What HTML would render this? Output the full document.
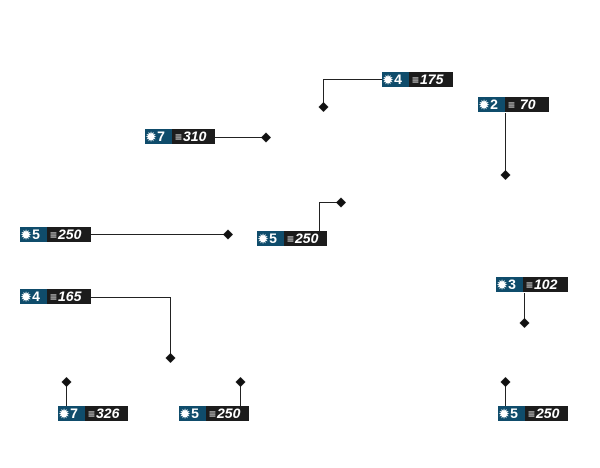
<!DOCTYPE html>
<html><head><meta charset="utf-8"><style>
body{margin:0;width:600px;height:468px;background:#fff;position:relative;overflow:hidden;font-family:"Liberation Sans",sans-serif}
.l{position:absolute;height:15px;display:flex;font-weight:bold;font-size:14px;line-height:15px;color:#fff}
.b{background:#0f4c6b;width:27px;padding-left:1px;box-sizing:border-box;white-space:nowrap}
.d{background:#1c1c1c;flex:1;font-style:italic;padding-left:3px;white-space:nowrap}
.g{font-size:12px;margin-right:1px}
svg{position:absolute;left:0;top:0}
</style></head><body>
<svg width="600" height="468">
<g stroke="#222" stroke-width="1" fill="none">
<polyline points="382,79.5 323.5,79.5 323.5,108"/>
<polyline points="505.5,113 505.5,175"/>
<polyline points="215,137.5 266,137.5"/>
<polyline points="91,234.5 228,234.5"/>
<polyline points="319.5,231 319.5,202.5 341,202.5"/>
<polyline points="91,297.5 170.5,297.5 170.5,358"/>
<polyline points="524.5,293 524.5,323"/>
<polyline points="66.5,406 66.5,382"/>
<polyline points="240.5,406 240.5,382"/>
<polyline points="505.5,406 505.5,382"/>
</g>
<g fill="#111">
<path d="M323.5,102 l5,5 -5,5 -5,-5z"/>
<path d="M505.5,170 l5,5 -5,5 -5,-5z"/>
<path d="M266,132.5 l5,5 -5,5 -5,-5z"/>
<path d="M228,229.5 l5,5 -5,5 -5,-5z"/>
<path d="M341,197.5 l5,5 -5,5 -5,-5z"/>
<path d="M170.5,353 l5,5 -5,5 -5,-5z"/>
<path d="M524.5,318 l5,5 -5,5 -5,-5z"/>
<path d="M66.5,377 l5,5 -5,5 -5,-5z"/>
<path d="M240.5,377 l5,5 -5,5 -5,-5z"/>
<path d="M505.5,377 l5,5 -5,5 -5,-5z"/>
</g>
</svg>
<div class="l" style="left:382px;top:72px;width:71px"><div class="b"><span class="g">✹</span>4</div><div class="d"><span class="g">≡</span>175</div></div>
<div class="l" style="left:478px;top:97px;width:71px"><div class="b"><span class="g">✹</span>2</div><div class="d"><span class="g">≡</span> 70</div></div>
<div class="l" style="left:145px;top:129px;width:70px"><div class="b"><span class="g">✹</span>7</div><div class="d"><span class="g">≡</span>310</div></div>
<div class="l" style="left:20px;top:227px;width:71px"><div class="b"><span class="g">✹</span>5</div><div class="d"><span class="g">≡</span>250</div></div>
<div class="l" style="left:257px;top:231px;width:70px"><div class="b"><span class="g">✹</span>5</div><div class="d"><span class="g">≡</span>250</div></div>
<div class="l" style="left:20px;top:289px;width:71px"><div class="b"><span class="g">✹</span>4</div><div class="d"><span class="g">≡</span>165</div></div>
<div class="l" style="left:496px;top:277px;width:72px"><div class="b"><span class="g">✹</span>3</div><div class="d"><span class="g">≡</span>102</div></div>
<div class="l" style="left:58px;top:406px;width:70px"><div class="b"><span class="g">✹</span>7</div><div class="d"><span class="g">≡</span>326</div></div>
<div class="l" style="left:179px;top:406px;width:70px"><div class="b"><span class="g">✹</span>5</div><div class="d"><span class="g">≡</span>250</div></div>
<div class="l" style="left:498px;top:406px;width:70px"><div class="b"><span class="g">✹</span>5</div><div class="d"><span class="g">≡</span>250</div></div>
</body></html>
